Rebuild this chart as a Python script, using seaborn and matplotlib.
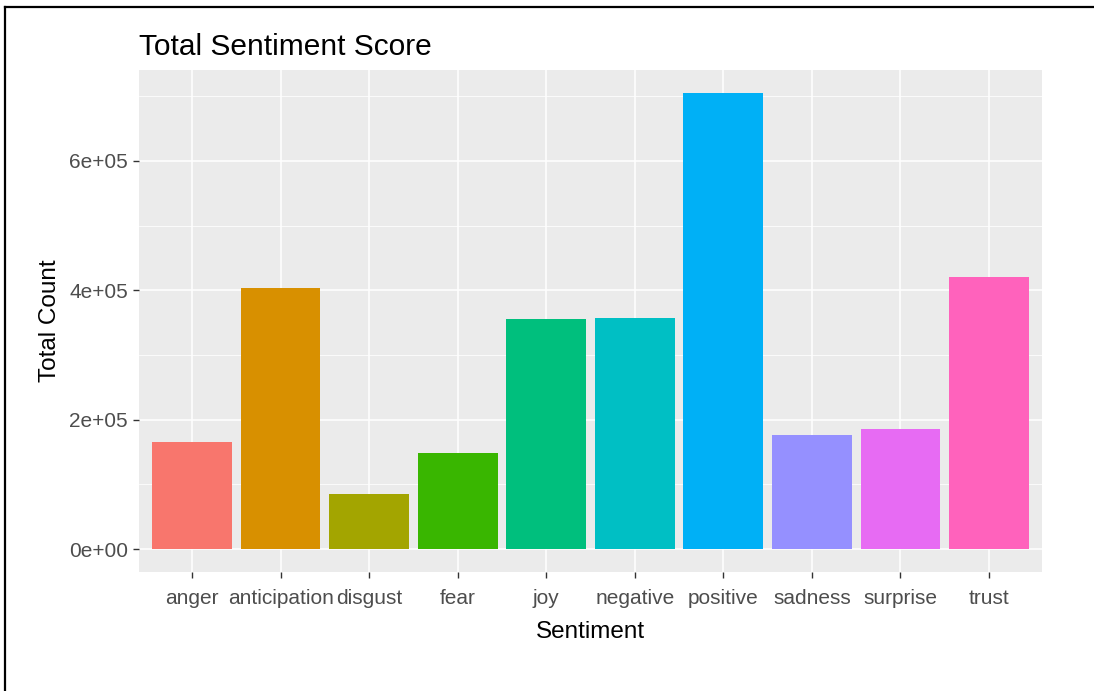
import matplotlib
matplotlib.use("Agg")
import matplotlib.pyplot as plt
from matplotlib.ticker import MultipleLocator, FuncFormatter
from matplotlib.lines import Line2D
import seaborn as sns
import pandas as pd

# values
sentiments = ["anger", "anticipation", "disgust", "fear", "joy",
              "negative", "positive", "sadness", "surprise", "trust"]
totals = [165000, 403000, 85500, 149000, 355000,
          357000, 705000, 177000, 185000, 420000]
hue_colors = ["#F8766D", "#D89000", "#A3A500", "#39B600", "#00BF7D",
              "#00BFC4", "#00B0F6", "#9590FF", "#E76BF3", "#FF62BC"]

df = pd.DataFrame({"sentiment": sentiments, "total": totals})

plt.rcParams["font.family"] = ["Liberation Sans", "DejaVu Sans"]

fig = plt.figure(figsize=(10.94, 6.91), dpi=100)
ax = fig.add_axes([139 / 1094, 1 - 572 / 691, (1042 - 139) / 1094, (572 - 70) / 691])
ax.set_facecolor("#EBEBEB")

sns.barplot(data=df, x="sentiment", y="total", hue="sentiment",
            palette=hue_colors, legend=False, width=0.9,
            saturation=1, ax=ax, zorder=3, linewidth=0)

ymax = max(totals)
ax.set_ylim(-0.05 * ymax, 1.05 * ymax)
ax.set_xlim(-0.6, len(sentiments) - 0.4)

ax.yaxis.set_major_locator(MultipleLocator(200000))
ax.yaxis.set_minor_locator(MultipleLocator(100000))
ax.yaxis.set_major_formatter(FuncFormatter(lambda v, p: f"{int(round(v / 1e5))}e+05" if v else "0e+00"))
ax.grid(which="major", color="white", linewidth=1.1, zorder=0)
ax.grid(which="minor", axis="y", color="white", linewidth=0.55, zorder=0)
ax.set_axisbelow(True)

for s in ax.spines.values():
    s.set_visible(False)

ax.tick_params(axis="both", which="major", length=4.3, width=1.0, color="#333333",
               labelcolor="#4D4D4D", labelsize=15, pad=3.6)
ax.tick_params(axis="x", which="major", pad=8)
ax.tick_params(axis="y", which="minor", length=0)

ax.set_xlabel("Sentiment", fontsize=17.5, color="black", labelpad=9)
ax.set_ylabel("Total Count", fontsize=17.5, color="black", labelpad=6)
ax.set_title("Total Sentiment Score", loc="left", fontsize=21.5, color="black", pad=11)

# frame around the screenshot
fig.add_artist(Line2D([4.5 / 1094, 4.5 / 1094], [0, 1 - 7 / 691], transform=fig.transFigure,
                      color="black", linewidth=1.6))
fig.add_artist(Line2D([4.5 / 1094, 1], [1 - 7 / 691, 1 - 7 / 691], transform=fig.transFigure,
                      color="black", linewidth=1.6))

fig.savefig("out.png", dpi=100)
